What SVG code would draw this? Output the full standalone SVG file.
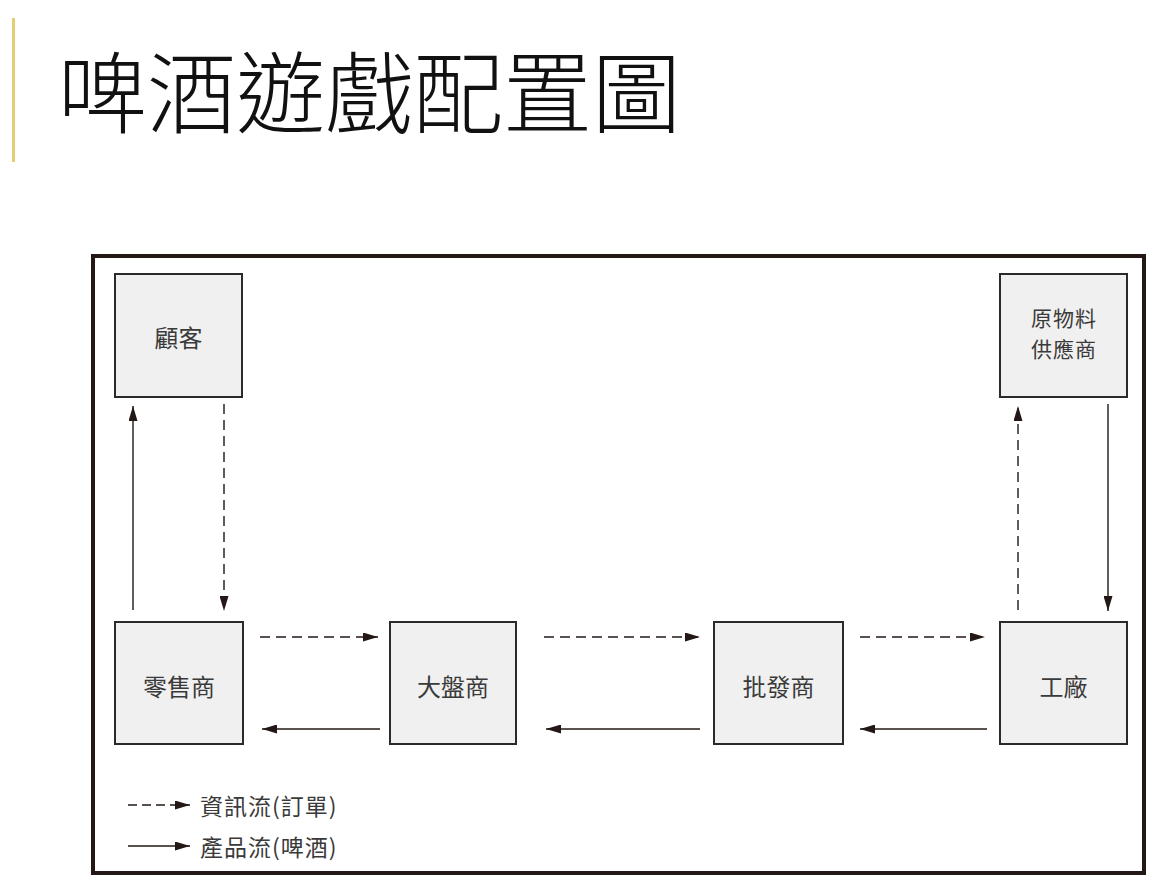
<svg xmlns="http://www.w3.org/2000/svg" width="1164" height="889" viewBox="0 0 1164 889">
<style>
.box{fill:#f0f0f0;stroke:#2a2a2a;stroke-width:2}
.lbl{font-family:"Noto Sans CJK TC","Noto Sans CJK SC",sans-serif;font-size:24px;fill:#3a3a3a;text-anchor:middle;dominant-baseline:central}
.sm{font-size:21px;letter-spacing:1px}
.leg{font-family:"Noto Sans CJK TC","Noto Sans CJK SC",sans-serif;font-size:23px;letter-spacing:1px;fill:#3a3a3a;dominant-baseline:central}
.ln{stroke:#231815;stroke-width:1.4;fill:none}
.dash{stroke-dasharray:10 6}
</style>
<defs>
<marker id="ah" viewBox="0 0 15 9" refX="15" refY="4.5" markerWidth="15" markerHeight="9" markerUnits="userSpaceOnUse" orient="auto">
<path d="M0,0 L15,4.5 L0,9 Z" fill="#231815"/>
</marker>
</defs>
<rect width="1164" height="889" fill="#ffffff"/>
<g id="title">
<rect x="12" y="18" width="3" height="144" fill="#e3cf73"/>
<text x="58" y="126" font-family="'Noto Sans CJK TC','Noto Sans CJK SC',sans-serif" font-size="89" font-weight="300" fill="#111">啤酒遊戲配置圖</text>
</g>
<rect id="frame" x="93" y="256" width="1051" height="617" fill="none" stroke="#231815" stroke-width="4"/>
<g id="customer"><rect class="box" x="115" y="274" width="127" height="123"/><text class="lbl" x="178.5" y="336">顧客</text></g>
<g id="supplier"><rect class="box" x="1000" y="274" width="127" height="123"/><text class="lbl sm" x="1064" y="317">原物料</text><text class="lbl sm" x="1064" y="348">供應商</text></g>
<g id="retailer"><rect class="box" x="115" y="622" width="128" height="122"/><text class="lbl" x="179" y="685">零售商</text></g>
<g id="wholesaler"><rect class="box" x="390" y="622" width="126" height="122"/><text class="lbl" x="453" y="685">大盤商</text></g>
<g id="distributor"><rect class="box" x="714" y="622" width="129" height="122"/><text class="lbl" x="778.5" y="685">批發商</text></g>
<g id="factory"><rect class="box" x="1000" y="622" width="127" height="122"/><text class="lbl" x="1063.5" y="685">工廠</text></g>
<g id="connectors">
<line class="ln" x1="133" y1="610" x2="133" y2="406" marker-end="url(#ah)"/>
<line class="ln dash" x1="224" y1="404" x2="224" y2="611" marker-end="url(#ah)"/>
<line class="ln dash" x1="1018" y1="610" x2="1018" y2="406" marker-end="url(#ah)"/>
<line class="ln" x1="1108" y1="404" x2="1108" y2="611" marker-end="url(#ah)"/>
<line class="ln dash" x1="260" y1="637" x2="378" y2="637" marker-end="url(#ah)"/>
<line class="ln dash" x1="544" y1="637" x2="700" y2="637" marker-end="url(#ah)"/>
<line class="ln dash" x1="860" y1="637" x2="985" y2="637" marker-end="url(#ah)"/>
<line class="ln" x1="380" y1="729" x2="262" y2="729" marker-end="url(#ah)"/>
<line class="ln" x1="700" y1="729" x2="546" y2="729" marker-end="url(#ah)"/>
<line class="ln" x1="987" y1="729" x2="860" y2="729" marker-end="url(#ah)"/>
</g>
<g id="legend">
<line class="ln" x1="128" y1="805" x2="190" y2="805" marker-end="url(#ah)" style="stroke-dasharray:9 5"/>
<text class="leg" x="200" y="805">資訊流(訂單)</text>
<line class="ln" x1="128" y1="846" x2="190" y2="846" marker-end="url(#ah)"/>
<text class="leg" x="200" y="846">產品流(啤酒)</text>
</g>
</svg>
